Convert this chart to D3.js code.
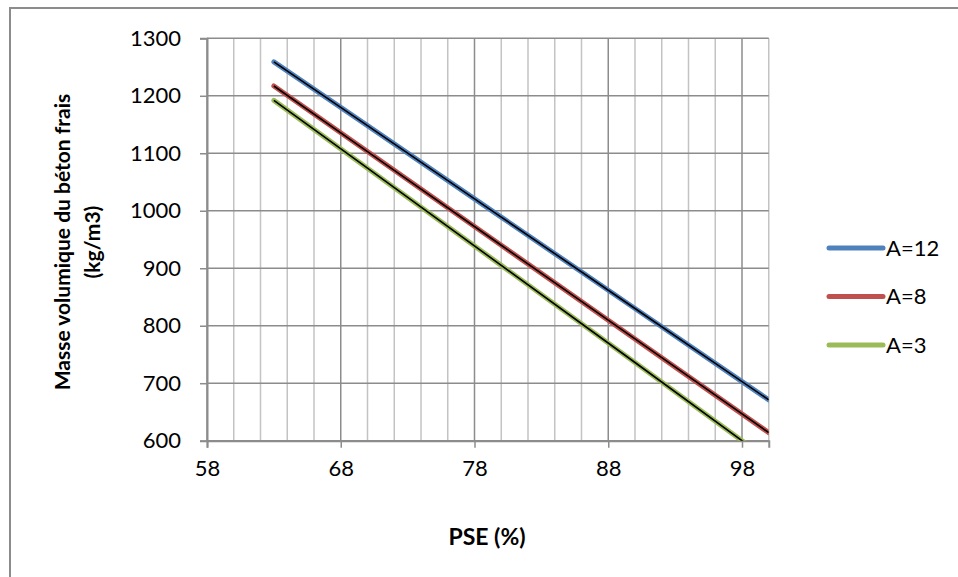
<!DOCTYPE html>
<html>
<head>
<meta charset="utf-8">
<script src="https://cdn.jsdelivr.net/npm/d3@7"></script>
<style>
  body { margin: 0; background: #fff; }
  text { font-family: Lato, "Open Sans", sans-serif; fill: #000; }
</style>
</head>
<body>
<script>
// PSE (%) values of the points
var pse = [63, 70, 80, 90, 100];
var seriesNames = ["A=12", "A=8", "A=3"];
var a12 = [1259, 1148, 989, 830, 671];
var a8 = [1217, 1103, 940, 777, 614];
var a3 = [1192, 1074, 905, 736, 566];
var xTicks = [58, 68, 78, 88, 98];
var yTicks = [600, 700, 800, 900, 1000, 1100, 1200, 1300];
var colors = ["#4f81bd", "#c0504d", "#9bbb59"];

var series = [a12, a8, a3].map(function (vals, i) {
    return { name: seriesNames[i], color: colors[i],
        pts: vals.map(function (v, j) { return { x: pse[j], y: v }; }) };
});

var W = 958, H = 577;
var svg = d3.select("body").append("svg")
    .attr("width", W).attr("height", H);

// chart frame (runs past the right and bottom edges)
svg.append("rect")
    .attr("x", 10).attr("y", 8)
    .attr("width", 1000).attr("height", 600)
    .attr("fill", "none").attr("stroke", "#8c8c8c").attr("stroke-width", 2);

var pLeft = 207, pRight = 768.75, pTop = 38.3, pBottom = 440.7;

var x = d3.scaleLinear().domain([58, 100]).range([pLeft, pRight]);
var y = d3.scaleLinear().domain([600, 1300]).range([pBottom, pTop]);

// minor vertical grid (every 2)
svg.append("g").selectAll("line")
    .data(d3.range(60, 101, 2).filter(function (d) { return (d - 58) % 10 != 0; }))
    .join("line")
    .attr("x1", function (d) { return x(d); }).attr("x2", function (d) { return x(d); })
    .attr("y1", pTop).attr("y2", pBottom)
    .attr("stroke", "#c3c3c3").attr("stroke-width", 1.5);

// major vertical grid
svg.append("g").selectAll("line")
    .data(xTicks)
    .join("line")
    .attr("x1", function (d) { return x(d); }).attr("x2", function (d) { return x(d); })
    .attr("y1", pTop).attr("y2", pBottom)
    .attr("stroke", "#8c8c8c").attr("stroke-width", 1.5);

// horizontal grid
svg.append("g").selectAll("line")
    .data(yTicks)
    .join("line")
    .attr("x1", pLeft).attr("x2", pRight)
    .attr("y1", function (d) { return y(d); }).attr("y2", function (d) { return y(d); })
    .attr("stroke", "#8c8c8c").attr("stroke-width", 1.5);

// axes
var xAxis = svg.append("g")
    .attr("transform", "translate(0," + pBottom + ")")
    .call(d3.axisBottom(x).tickValues(xTicks).tickSize(7).tickPadding(13));
var yAxis = svg.append("g")
    .attr("transform", "translate(" + pLeft + ",0)")
    .call(d3.axisLeft(y).tickValues(yTicks).tickSize(7).tickPadding(19)
        .tickFormat(d3.format("d")));
[xAxis, yAxis].forEach(function (g) {
    g.select(".domain").attr("stroke", "#8c8c8c").attr("stroke-width", 2);
    g.selectAll(".tick line").attr("stroke", "#8c8c8c").attr("stroke-width", 1.5);
    g.selectAll(".tick text").style("font-size", "22px").attr("fill", "#000");
});

// lines, clipped to the plot area
svg.append("clipPath").attr("id", "plot")
    .append("rect").attr("x", pLeft).attr("y", pTop)
    .attr("width", pRight - pLeft).attr("height", pBottom - pTop);

var line = d3.line()
    .x(function (d) { return x(d.x); })
    .y(function (d) { return y(d.y); });

var plot = svg.append("g").attr("clip-path", "url(#plot)");
series.forEach(function (s) {
    plot.append("path").datum(s.pts)
        .attr("d", line).attr("fill", "none")
        .attr("stroke", s.color).attr("stroke-width", 5)
        .attr("stroke-linecap", "round");
    plot.append("path").datum(s.pts)
        .attr("d", line).attr("fill", "none")
        .attr("stroke", "#000").attr("stroke-width", 1.6);
});

// legend
var legend = svg.append("g").selectAll("g")
    .data(series).join("g")
    .attr("transform", function (d, i) { return "translate(829," + (248 + i * 48.5) + ")"; });
legend.append("line")
    .attr("x1", 0).attr("x2", 54)
    .attr("stroke", function (d) { return d.color; })
    .attr("stroke-width", 5).attr("stroke-linecap", "round");
legend.append("text")
    .attr("x", 57).attr("dy", "0.35em")
    .style("font-size", "22px")
    .text(function (d) { return d.name; });

// axis titles
svg.append("text")
    .attr("x", 487).attr("y", 545)
    .attr("text-anchor", "middle")
    .style("font-size", "23px").style("font-weight", "bold")
    .text("PSE (%)");

var yTitle = svg.append("text")
    .attr("transform", "translate(63,242) rotate(-90)")
    .attr("text-anchor", "middle")
    .style("font-size", "21px").style("font-weight", "bold");
yTitle.append("tspan").attr("x", 0).attr("dy", "0.35em").text("Masse volumique du béton frais");
yTitle.append("tspan").attr("x", 0).attr("dy", "1.4em").text("(kg/m3)");
</script>
</body>
</html>
